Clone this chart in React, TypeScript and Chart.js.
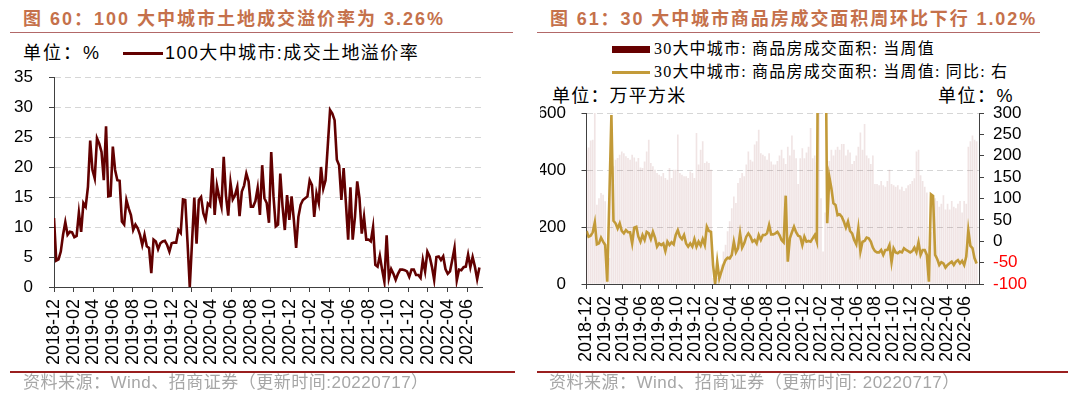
import React, { useEffect, useRef } from "react";
import { Chart, registerables } from "chart.js";

Chart.register(...registerables);

// ---------- shared axis data ----------
const MONTHS_PER_WEEK = 12 / 52.1775; // weekly data, x measured in months from 2018-12
const X_MAX_MONTHS = 43.5; // axis ends mid-July 2022
const xTickLabels = [
  "2018-12", "2019-02", "2019-04", "2019-06", "2019-08", "2019-10", "2019-12",
  "2020-02", "2020-04", "2020-06", "2020-08", "2020-10", "2020-12",
  "2021-02", "2021-04", "2021-06", "2021-08", "2021-10", "2021-12",
  "2022-02", "2022-04", "2022-06",
];
const xTickMonths = xTickLabels.map((_, i) => i * 2);

// ---------- Figure 60: land premium rate (%) ----------
const landPremiumY = { min: 0, max: 35, step: 5 };
const landPremium = [
  11.5, 4.4, 4.6, 5.9, 8.7, 10.8, 8.7, 9.2, 9.1, 8.3, 8.5, 12.4, 9.2, 14, 13.4, 16.7, 24.4, 19.5, 18.1, 24.8,
  23.9, 22.5, 17.8, 26.8, 15.1, 15.2, 23.4, 19.5, 17.8, 17.7, 10.9, 10.4, 14.5, 13.1, 12, 9.5, 10.4, 9.8, 8.7, 7,
  8.7, 6.8, 6.5, 2.3, 7.9, 7.6, 6.3, 7.3, 7.6, 7.7, 7.0, 5.9, 7.3, 7.4, 7.4, 9.5, 9.0, 14.6, 14.5, 7.5,
  0, 7.5, 14.9, 7.2, 14.5, 15, 12.3, 11.2, 13.9, 13.5, 19.8, 12, 16.9, 15, 13.4, 21.7, 15.2, 11.9, 17.4, 14.6,
  15.3, 16.7, 11.8, 15.9, 16.9, 18.9, 17.6, 13.4, 13.4, 14.3, 16.5, 12, 20.3, 14.8, 14, 10.7, 22.5, 15.1, 10.1, 10.4,
  18.9, 13.4, 9.5, 15.3, 11.2, 15.1, 11.2, 6.5, 11.7, 13.7, 14.5, 14.8, 15.1, 17.8, 17, 11.7, 15.6, 14, 20, 16.4,
  17.8, 23.6, 29.5, 28.9, 27.8, 21.2, 20.3, 14.5, 19.8, 14, 7.9, 16.6, 7.9, 11.7, 17.6, 14.8, 8.9, 11.7, 7.9, 7.9,
  7.6, 10, 3.7, 3.4, 5.2, 2.9, 0.9, 8.6, 1.5, 3, 2.2, 1.2, 2.2, 2.9, 2.9, 2.8, 2.6, 1.7, 2.9, 2.9,
  2, 2, 1.5, 4.5, 2.6, 5.9, 5.1, 3.4, 1.2, 5, 5.1, 4.5, 5.1, 3, 2.2, 2.6, 4.5, 6.5, 1.1, 2.9,
  2.8, 3.3, 3.4, 5.4, 3.3, 5, 3.4, 1.3, 3.26,
];

// ---------- Figure 61: 30-city weekly transaction area ----------
const areaY = { min: 0, max: 600, step: 200 }; // 万平方米
const yoyY = { min: -100, max: 300, step: 50 }; // %
const weeklyArea = [
  470, 478, 502, 505, 600, 277, 300, 318, 312, 289, 55, 90, 382, 412, 435, 441, 452, 464, 458, 447,
  441, 435, 452, 443, 429, 441, 408, 406, 429, 464, 505, 423, 412, 400, 388, 382, 377, 388, 371, 365,
  406, 371, 400, 400, 523, 388, 382, 377, 377, 371, 394, 388, 371, 529, 418, 470, 500, 423, 429, 423,
  400, 20, 8, 20, 37, 67, 113, 137, 184, 219, 265, 306, 283, 353, 371, 388, 377, 418, 464, 435,
  429, 488, 500, 540, 458, 452, 447, 435, 458, 429, 418,
  418, 430, 450, 470, 440, 420, 480, 450, 520, 470, 440, 350, 440, 475, 440, 460, 480, 546, 440, 450,
  430, 620, 300, 113, 250, 330, 430, 470, 450, 470, 480, 470, 490, 490, 450, 470, 460, 420, 430, 450,
  480, 530, 470, 560, 450, 440, 420, 450, 350, 350, 345, 360, 345, 340, 360, 400, 350, 345, 340, 345,
  330, 340, 325, 335, 345, 350, 360, 370, 464, 470, 380, 360, 340, 320, 130, 180, 280, 300, 290, 270,
  280, 310, 260, 280, 260, 290, 270, 265, 280, 290, 250, 290, 280,
  480, 500, 520, 505, 500,
];
const weeklyYoY = [
  24, 10.7, 13, 20.9, 44, -7.2, -4.9, 8.4, -1, -8.8, -94.5, 100, 295, 48, 42, 30, 42, 24, 18.5, 26,
  21, 21, -5, 32, 34, 10.7, -1, 14.6, 3, 22, 18.5, 5, 22, 8.4, -12.7, -5, -8.8, -5, -22.8, -1,
  -8.8, -2.5, -7.2, 14.6, 26, 10.7, 5, 14.6, -5, -12.7, -5, -12.7, 5, -12.7, -1, -10.3, 5, -8.8, 34, 24,
  22, -55.6, -100, -47.8, -86.7, -71, -55.6, -44, -38.4, -40, -32, -1, -26, -16.6, 18.5, -15, -5, 10.7, 18.5, 10.7,
  -1, 3, -5, 14.6, 3, 14.6, 14.6, 18.5, 38, 16, 16,
  18.5, 22, 14.6, 3, -2.5, 106.6, -47.8, 6.8, 21, 34, 21, 13, 10.7, -8.8, 10.7, -1, 0.6, -1, 6.8, 14.6,
  -1, 900, 1300, 1000, 600, 42, 151, 124, 88.7, 85, 61, 63, 57.5, 46, 32, 46, 24, 18.5, 3, -7,
  30, -24, -1, 0.6, 8.4, 6.8, -1, -15, -23, -26, -26, -20.5, -32, -20.5, -20.5, -8.8, -49, -16.6, -26, -28,
  -24, -26, -16.6, -20.5, -23, -26, -23, -15, -26, -2.5, -32, -20.5, -20.5, -32, -94.5, 109.7, 106, -32, -41.5, -55.6,
  -49, -51.7, -61.8, -55.6, -51.7, -47.8, -55.6, -47.8, -44, -51.7, -46, -55.6, -36,
  26, -11, -16, -40, -52,
];

// ---------- styles ----------
const SANS = "'Liberation Sans', Arial, 'Noto Sans CJK SC', sans-serif";
const SERIF = "'Liberation Serif', 'Noto Sans CJK SC', serif";
const AXIS = "#404040";
const GRID = "#D6D6D6";
const TICK_FONT = { family: "'Liberation Sans', Arial, sans-serif", size: 17 };
const XTICK_FONT = { family: "'Liberation Sans', Arial, sans-serif", size: 18 };

const toPoints = (arr: number[]) => arr.map((v, i) => ({ x: i * MONTHS_PER_WEEK, y: v }));

const zeroPad = (s: any) => {
  s.paddingTop = 0;
  s.paddingBottom = 0;
  s.paddingLeft = 0;
  s.paddingRight = 0;
};

function xScale(height: number) {
  return {
    type: "linear",
    min: 0,
    max: X_MAX_MONTHS,
    offset: false,
    afterBuildTicks: (s: any) => {
      s.ticks = xTickMonths.map((v) => ({ value: v }));
    },
    afterFit: (s: any) => {
      s.height = height;
      zeroPad(s);
    },
    ticks: {
      autoSkip: false,
      minRotation: 90,
      maxRotation: 90,
      padding: 7,
      color: "#000",
      font: XTICK_FONT,
      callback: (_v: any, i: number) => xTickLabels[i],
    },
    grid: { display: true, drawOnChartArea: false, drawTicks: true, tickLength: 5, tickColor: AXIS, offset: false },
    border: { color: AXIS, width: 1 },
  };
}

const gridColor = (ctx: any) => (ctx.tick && ctx.tick.value === 0 ? "rgba(0,0,0,0)" : GRID);

function LeftChart() {
  const ref = useRef<HTMLCanvasElement | null>(null);
  useEffect(() => {
    if (!ref.current) return;
    const W = 500, H = 312;
    const chart = new Chart(ref.current, {
      type: "line",
      data: {
        datasets: [
          {
            label: "100大中城市:成交土地溢价率",
            data: toPoints(landPremium),
            borderColor: "#620000",
            borderWidth: 2.6,
            pointRadius: 0,
            tension: 0,
          },
        ],
      },
      options: {
        animation: false,
        responsive: false,
        events: [],
        layout: { padding: { left: 0, top: 17, right: W - 482, bottom: 0 } },
        plugins: { legend: { display: false }, tooltip: { enabled: false } },
        scales: {
          x: xScale(H - 227) as any,
          y: {
            min: landPremiumY.min,
            max: landPremiumY.max,
            afterFit: (s: any) => {
              s.width = 54;
              zeroPad(s);
            },
            ticks: { stepSize: landPremiumY.step, autoSkip: false, padding: 16, color: "#000", font: TICK_FONT },
            grid: { color: gridColor, lineWidth: 1, tickLength: 5, tickColor: AXIS },
            border: { color: AXIS, width: 1, dash: [6, 4] },
          },
        },
      },
    });
    return () => chart.destroy();
  }, []);
  return <canvas ref={ref} width={500} height={312} style={{ position: "absolute", left: 0, top: 60, width: 500, height: 312 }} />;
}

function RightChart() {
  const ref = useRef<HTMLCanvasElement | null>(null);
  useEffect(() => {
    if (!ref.current) return;
    const W = 520, H = 272;
    const chart = new Chart(ref.current, {
      type: "line",
      data: {
        datasets: [
          {
            type: "line",
            label: "30大中城市: 商品房成交面积: 当周值: 同比: 右",
            data: toPoints(weeklyYoY),
            yAxisID: "y1",
            borderColor: "#C29A38",
            borderWidth: 2.6,
            pointRadius: 0,
            tension: 0,
            order: 0,
          },
          {
            type: "bar",
            label: "30大中城市: 商品房成交面积: 当周值",
            data: toPoints(weeklyArea),
            yAxisID: "y",
            backgroundColor: "rgba(130, 30, 30, 0.12)",
            borderWidth: 0,
            barThickness: 1,
            order: 1,
          } as any,
        ],
      },
      options: {
        animation: false,
        responsive: false,
        events: [],
        layout: { padding: { left: 0, top: 13, right: 0, bottom: 0 } },
        plugins: { legend: { display: false }, tooltip: { enabled: false } },
        scales: {
          x: xScale(H - 184) as any,
          y: {
            position: "left",
            min: areaY.min,
            max: areaY.max,
            afterFit: (s: any) => {
              s.width = 46.5;
              zeroPad(s);
            },
            ticks: { stepSize: areaY.step, autoSkip: false, padding: 15.5, color: "#000", font: TICK_FONT },
            grid: { color: gridColor, lineWidth: 1, tickLength: 5, tickColor: AXIS },
            border: { color: AXIS, width: 1, dash: [6, 4] },
          },
          y1: {
            position: "right",
            min: yoyY.min,
            max: yoyY.max,
            afterFit: (s: any) => {
              s.width = W - 439;
              zeroPad(s);
            },
            ticks: {
              stepSize: yoyY.step,
              autoSkip: false,
              padding: 9,
              font: TICK_FONT,
              color: (ctx: any) => (ctx.tick && ctx.tick.value < 0 ? "#FF0000" : "#000"),
            },
            grid: { drawOnChartArea: false, tickLength: 5, tickColor: AXIS },
            border: { color: AXIS, width: 1 },
          },
        },
      },
    });
    return () => chart.destroy();
  }, []);
  return <canvas ref={ref} width={520} height={272} style={{ position: "absolute", left: 540, top: 100, width: 520, height: 272 }} />;
}

type TxtProps = {
  x: number;
  y: number;
  size: number;
  color?: string;
  bold?: boolean;
  family?: string;
  spacing?: number;
  children: React.ReactNode;
};
function Txt({ x, y, size, color = "#000", bold = false, family = SANS, spacing = 0, children }: TxtProps) {
  return (
    <div
      style={{
        position: "absolute",
        left: x,
        top: y - 15,
        height: 30,
        lineHeight: "30px",
        fontSize: size,
        color,
        fontWeight: bold ? 700 : 400,
        fontFamily: family,
        letterSpacing: spacing,
        whiteSpace: "nowrap",
      }}
    >
      {children}
    </div>
  );
}

function Rule({ x, y, w, h, color }: { x: number; y: number; w: number; h: number; color: string }) {
  return <div style={{ position: "absolute", left: x, top: y, width: w, height: h, background: color }} />;
}

const TITLE_COLOR = "#C5714B";
const NOTE_COLOR = "#A6A6A6";

export default function App() {
  return (
    <div style={{ position: "fixed", left: 0, top: 0, width: 1080, height: 394, background: "#fff", overflow: "hidden" }}>
      {/* left panel */}
      <Txt x={23} y={19} size={18} bold color={TITLE_COLOR} spacing={2}>图 60：100 大中城市土地成交溢价率为 3.26%</Txt>
      <Rule x={10} y={32} w={503} h={1} color="#B26868" />
      <Txt x={23} y={53} size={18} spacing={2}>单位：%</Txt>
      <Rule x={123} y={52} w={40} h={3} color="#620000" />
      <Txt x={165} y={53} size={18} spacing={1.4}>100大中城市:成交土地溢价率</Txt>
      <LeftChart />
      <Rule x={10} y={371} w={505} h={2} color="#9A1F1F" />
      <Txt x={23} y={383} size={17} color={NOTE_COLOR} spacing={0.5}>资料来源：Wind、招商证券（更新时间:20220717）</Txt>

      {/* right panel */}
      <Txt x={550} y={19} size={18} bold color={TITLE_COLOR} spacing={1.9}>图 61：30 大中城市商品房成交面积周环比下行 1.02%</Txt>
      <Rule x={537} y={32} w={503} h={1} color="#B26868" />
      <Rule x={612} y={46} w={38} h={7} color="#660000" />
      <Txt x={654} y={49} size={16} family={SERIF} spacing={1.2}>30大中城市: 商品房成交面积: 当周值</Txt>
      <Rule x={612} y={71} w={38} h={3} color="#C39B3A" />
      <Txt x={654} y={72} size={16} family={SERIF} spacing={1.2}>30大中城市: 商品房成交面积: 当周值: 同比: 右</Txt>
      <Txt x={552} y={96} size={18} spacing={1.2}>单位：万平方米</Txt>
      <Txt x={938} y={96} size={18} spacing={1.5}>单位：%</Txt>
      <RightChart />
      <Rule x={537} y={371} w={531} h={2} color="#9A1F1F" />
      <Txt x={549} y={383} size={17} color={NOTE_COLOR} spacing={0.5}>资料来源：Wind、招商证券（更新时间: 20220717）</Txt>
    </div>
  );
}
